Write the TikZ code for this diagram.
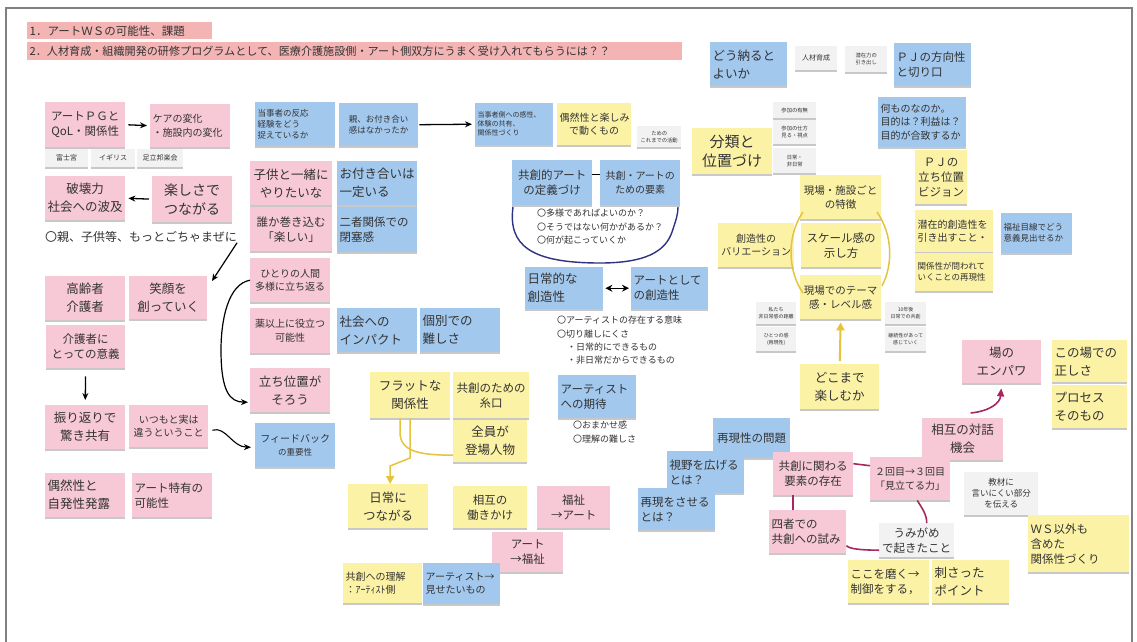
\documentclass[tikz,border=0pt]{standalone}
\usepackage{fontspec}
\setmainfont{Noto Sans CJK JP}
\usetikzlibrary{arrows.meta,shadows}
\definecolor{cpk}{HTML}{F7C8D6}
\definecolor{cbl}{HTML}{A3C8EE}
\definecolor{cyl}{HTML}{FBF2A6}
\definecolor{cgy}{HTML}{F2F2F2}
\definecolor{chd}{HTML}{F4B4B4}
\definecolor{ctx}{HTML}{333333}
\definecolor{cnv}{HTML}{2E3280}
\definecolor{cgd}{HTML}{E6C33C}
\definecolor{cmg}{HTML}{A8275F}
\newcommand{\szX}{\fontsize{15}{19}\selectfont}
\newcommand{\szA}{\fontsize{12.5}{18}\selectfont}
\newcommand{\szB}{\fontsize{11.5}{15}\selectfont}
\newcommand{\szBC}{\fontsize{10.5}{14}\selectfont}
\newcommand{\szC}{\fontsize{10}{13.5}\selectfont}
\newcommand{\szD}{\fontsize{8.5}{11}\selectfont}
\newcommand{\szE}{\fontsize{7}{9}\selectfont}
\newcommand{\szF}{\fontsize{5.3}{7}\selectfont}
\newcommand{\szT}{\fontsize{9}{13.3}\selectfont}
\newcommand{\stk}[8]{%
  \pgfmathsetmacro{\stkw}{#5-5}%
  \node[#1, anchor=north west, minimum width=#5pt, minimum height=#6pt, text width=\stkw pt, align=#7] (#2) at (#3,#4) {#8};}
\begin{document}
\begin{tikzpicture}[x=1pt,y=-1pt,
  sticky/.style={text=ctx, inner xsep=2.5pt, inner ysep=2pt,
    drop shadow={shadow xshift=0pt, shadow yshift=-2pt, opacity=0.3, fill=black!70}},
  pk/.style={sticky, fill=cpk},
  bl/.style={sticky, fill=cbl},
  yl/.style={sticky, fill=cyl},
  gy/.style={sticky, fill=cgy},
  hd/.style={text=ctx, fill=chd, inner xsep=2.5pt, inner ysep=1pt},
  txt/.style={text=ctx, inner sep=0pt},
  arr/.style={-{Stealth[length=7pt,width=6pt]}, line width=1.3pt, black},
  gdline/.style={cgd, line width=1.5pt},
  mgline/.style={cmg, line width=1.6pt},
  frame/.style={draw=black!50, line width=1.3pt}]
\useasboundingbox (0,0) rectangle (1137,641);
\fill[white] (0,0) rectangle (1137,641);
\draw[frame] (6,8) rectangle (1132,660);

% headers
\stk{hd,font=\fontsize{11.5}{14}\selectfont}{h1}{27}{22}{185}{17}{left}{1．アートＷＳの可能性、課題}
\stk{hd,font=\fontsize{11.1}{14}\selectfont}{h2}{27}{42}{655}{18}{left}{2．人材育成・組織開発の研修プログラムとして、医療介護施設側・アート側双方にうまく受け入れてもらうには？？}

% left column
\stk{pk,font=\szB}{n1}{45}{102}{80}{45}{center}{アートＰＧと\\QoL・関係性}
\stk{pk,font=\szC}{n2}{150}{104}{80}{43}{left}{ケアの変化\\・施設内の変化}
\stk{gy,font=\szE}{g1}{45}{149}{43}{18}{center}{富士宮}
\stk{gy,font=\szE}{g2}{91}{149}{44}{18}{center}{イギリス}
\stk{gy,font=\szE}{g3}{137}{149}{46}{18}{center}{足立邦楽会}
\stk{pk,font=\szA}{n3}{45}{176}{80}{44}{center}{破壊力\\社会への波及}
\stk{pk,font=\fontsize{14}{19}\selectfont}{n4}{152}{176}{80}{46}{center}{楽しさで\\つながる}
\node[txt, font=\fontsize{12}{14}\selectfont, anchor=west] (t1) at (45,237) {〇親、子供等、もっとごちゃまぜに};
\coordinate (c2) at (212,281);
\stk{pk,font=\szA}{n5}{45}{276}{80}{44}{center}{高齢者\\介護者}
\stk{pk,font=\szA}{n6}{129}{276}{78}{43}{center}{笑顔を\\創っていく}
\stk{pk,font=\szB}{n7}{46}{325}{79}{43}{center}{介護者に\\とっての意義}
\stk{pk,font=\szA}{n8}{45}{405}{80}{44}{center}{振り返りで\\驚き共有}
\stk{pk,font=\szC}{n9}{129}{405}{79}{42}{center}{いつもと実は\\違うということ}
\stk{bl,font=\szC}{n10}{255}{423}{80}{44}{center}{フィードバック\\{\szD の重要性}}
\stk{pk,font=\szA}{n11}{45}{473}{80}{44}{left}{偶然性と\\自発性発露}
\stk{pk,font=\szB}{n12}{132}{473}{80}{44}{left}{アート特有の\\可能性}

% column 2
\stk{bl,font=\szD}{n13}{255}{102}{80}{44}{left}{当事者の反応\\経験をどう\\捉えているか}
\stk{bl,font=\szD}{n14}{339}{103}{79}{43}{center}{親、お付き合い\\感はなかったか}
\stk{pk,font=\szA}{n15}{250}{161}{82}{44}{center}{子供と一緒に\\やりたいな}
\stk{bl,font=\szA}{n16}{337}{161}{80}{44}{left}{お付き合いは\\一定いる}
\stk{pk,font=\szB}{n17}{250}{207}{82}{44}{center}{誰か巻き込む\\「楽しい」}
\stk{bl,font=\szB}{n18}{337}{207}{80}{45}{left}{二者関係での\\閉塞感}
\stk{pk,font=\szC}{n19}{250}{258}{80}{44}{center}{ひとりの人間\\多様に立ち返る}
\stk{pk,font=\szC}{n20}{250}{308}{80}{45}{center}{薬以上に役立つ\\可能性}
\stk{bl,font=\szA}{n21}{337}{308}{80}{44}{left}{社会への\\インパクト}
\stk{bl,font=\szA}{n22}{420}{308}{80}{44}{left}{個別での\\難しさ}
\stk{pk,font=\szA}{n23}{250}{368}{80}{44}{center}{立ち位置が\\そろう}

% centre
\stk{bl,font=\szE}{n24}{475}{103}{78}{42}{left}{当事者側への感性、\\体験の共有、\\関係性づくり}
\stk{yl,font=\szC}{n25}{557}{103}{74}{42}{center}{偶然性と楽しみ\\で動くもの}
\stk{gy,font=\szF}{g4}{637}{126}{44}{21}{center}{ための\\これまでの活動}
\stk{bl,font=\szB}{n26}{512}{160}{80}{45}{center}{共創的アート\\の定義づけ}
\stk{bl,font=\szC}{n27}{600}{160}{80}{45}{center}{共創・アートの\\ための要素}
\node[txt, font=\szT, anchor=north west, align=left] (t2) at (537,209) {〇多様であればよいのか？\\〇そうではない何かがあるか？\\〇何が起こっていくか};
\stk{bl,font=\szA}{n28}{525}{267}{78}{42}{left}{日常的な\\創造性}
\stk{bl,font=\szB}{n29}{631}{267}{77}{42}{left}{アートとして\\の創造性}
\node[txt, font=\szT, anchor=north west, align=left] (t3) at (557,316) {〇アーティストの存在する意味\\〇切り離しにくさ\\\hspace{10pt}・日常的にできるもの\\\hspace{10pt}・非日常だからできるもの};
\stk{bl,font=\szB}{n30}{558}{375}{78}{43}{left}{アーティスト\\への期待}
\node[txt, font=\szT, anchor=north west, align=left] (t4) at (573,421) {〇おまかせ感\\〇理解の難しさ};

% yellow centre-left
\stk{yl,font=\szA}{n31}{370}{372}{80}{46}{center}{フラットな\\関係性}
\stk{yl,font=\szB}{n32}{453}{372}{76}{46}{center}{共創のための\\糸口}
\stk{yl,font=\szA}{n33}{453}{420}{74}{42}{center}{全員が\\登場人物}
\stk{yl,font=\szA}{n34}{348}{484}{80}{44}{center}{日常に\\つながる}
\stk{yl,font=\szB}{n35}{453}{486}{74}{42}{center}{相互の\\働きかけ}
\stk{pk,font=\szB}{n36}{537}{486}{73}{42}{center}{福祉\\→アート}
\stk{pk,font=\szB}{n37}{492}{532}{71}{40}{center}{アート\\→福祉}
\stk{yl,font=\szC}{n38}{343}{563}{79}{40}{left}{共創への理解\\：ｱｰﾃｨｽﾄ側}
\stk{bl,font=\szC}{n39}{423}{563}{77}{41}{left}{アーティスト→\\見せたいもの}

% right
\stk{bl,font=\szA}{n40}{710}{42}{77}{44}{left}{どう納ると\\よいか}
\stk{gy,font=\szE}{g5}{795}{46}{42}{24}{center}{人材育成}
\stk{gy,font=\szF}{g6}{845}{46}{42}{26}{center}{潜在力の\\引き出し}
\stk{bl,font=\szB}{n41}{894}{43}{77}{43}{left}{ＰＪの方向性\\と切り口}
\stk{bl,font=\szC}{n42}{878}{97}{88}{50}{left}{何ものなのか。\\目的は？利益は？\\目的が合致するか}
\stk{gy,font=\szF}{g7}{773}{102}{43}{16}{center}{参加の有無}
\stk{gy,font=\szF}{g8}{773}{120}{43}{24}{center}{参加の仕方\\見る・視点}
\stk{gy,font=\szF}{g9}{773}{148}{43}{25}{center}{日常・\\非日常}
\stk{yl,font=\szX}{n43}{692}{128}{80}{46}{center}{分類と\\位置づけ}
\stk{yl,font=\szB}{n44}{915}{150}{52}{54}{center}{ＰＪの\\立ち位置\\ビジョン}
\stk{yl,font=\szBC}{n45}{800}{175}{81}{44}{center}{現場・施設ごと\\の特徴}
\stk{yl,font=\szC}{n46}{718}{223}{76}{44}{center}{創造性の\\バリエーション}
\stk{yl,font=\szB}{n47}{801}{223}{80}{44}{center}{スケール感の\\示し方}
\stk{yl,font=\szBC}{n48}{800}{275}{81}{44}{center}{現場でのテーマ\\感・レベル感}
\stk{yl,font=\szC}{n49}{915}{210}{78}{42}{left}{潜在的創造性を\\引き出すこと・}
\stk{yl,font=\szD}{n50}{915}{253}{78}{38}{left}{関係性が問われて\\いくことの再現性}
\stk{bl,font=\szD}{n51}{1001}{213}{71}{40}{left}{福祉目線でどう\\意義見出せるか}
\stk{gy,font=\fontsize{5}{6.5}\selectfont}{g10}{756}{302}{40}{22}{center}{私たち\\非日常感の距離}
\stk{gy,font=\fontsize{5}{6.5}\selectfont}{g11}{756}{327}{40}{24}{center}{ひとつの感\\(再現性)}
\stk{gy,font=\fontsize{5}{6.5}\selectfont}{g12}{885}{302}{41}{22}{center}{10年後\\日常での共創}
\stk{gy,font=\fontsize{5}{6.5}\selectfont}{g13}{885}{327}{41}{24}{center}{継続性があって\\感じていく}
\stk{yl,font=\szA}{n52}{800}{364}{79}{45}{center}{どこまで\\楽しむか}
\stk{pk,font=\szA}{n53}{962}{340}{79}{43}{center}{場の\\エンパワ}
\stk{yl,font=\szA}{n54}{1052}{340}{75}{42}{left}{この場での\\正しさ}
\stk{yl,font=\szA}{n55}{1052}{385}{75}{43}{left}{プロセス\\そのもの}
\stk{pk,font=\szA}{n56}{922}{418}{81}{42}{center}{相互の対話\\機会}
\stk{bl,font=\szB}{n57}{713}{418}{77}{40}{center}{再現性の問題}
\stk{bl,font=\szB}{n58}{667}{451}{77}{42}{left}{視野を広げる\\とは？}
\stk{bl,font=\szB}{n59}{638}{488}{77}{42}{left}{再現をさせる\\とは？}
\stk{pk,font=\szB}{n60}{773}{452}{80}{43}{center}{共創に関わる\\要素の存在}
\stk{pk,font=\szC}{n61}{870}{457}{80}{43}{center}{２回目→３回目\\「見立てる力」}
\stk{pk,font=\szB}{n62}{769}{510}{77}{43}{left}{四者での\\共創への試み}
\stk{gy,font=\szD}{g14}{964}{472}{74}{43}{center}{教材に\\言いにくい部分\\を伝える}
\stk{gy,font=\szB}{n63}{879}{523}{75}{34}{center}{うみがめ\\で起きたこと}
\stk{yl,font=\szB}{n64}{848}{560}{81}{43}{left}{ここを磨く→\\制御をする，}
\stk{yl,font=\szA}{n65}{932}{560}{77}{43}{left}{刺さった\\ポイント}
\stk{yl,font=\szB}{n66}{1028}{515}{101}{57}{left}{ＷＳ以外も\\含めた\\関係性づくり}

% black connectors
\draw[arr, shorten <=3pt, shorten >=3pt] (n1.east) -- (n2.west);
\draw[arr, shorten <=3pt, shorten >=3pt] (n4.west) -- (n3.east);
\draw[arr, line width=1.2pt] (t1.south east) -- (c2);
\draw[arr, shorten <=8pt, shorten >=5pt] (n7.south) -- (n8.north);
\draw[arr, line width=1.1pt] ([xshift=4pt,yshift=-4pt]n9.east) .. controls (226,426) and (232,447) .. ([xshift=-4pt,yshift=-2pt]n10.west);
\draw[arr, line width=1.2pt] (n19.west) .. controls (228,284) and (221,320) .. (221,350) .. controls (221,392) and (230,402) .. ([xshift=-2pt,yshift=-12pt]n23.west);
\draw[arr, shorten <=1pt, shorten >=3pt] (n14.east) -- (n24.west);
\draw[line width=1.3pt] ([yshift=8pt]n26.east) -- ([yshift=8pt]n27.west);
\draw[{Stealth[length=7pt,width=7pt]}-{Stealth[length=7pt,width=7pt]}, line width=1.3pt, shorten <=2pt, shorten >=2pt] (n28.east) -- (n29.west);

% navy lasso
\draw[cnv, line width=1.4pt] (513,207) .. controls (508,245) and (530,263) .. (600,263) .. controls (655,263) and (668,246) .. (673,229) .. controls (676,220) and (678,214) .. (678,207);

% golden lines
\draw[gdline] ([xshift=-10pt]n31.south) -- (400,432) .. controls (400,452) and (420,455) .. ([yshift=-14pt]n33.west);
\draw[gdline, -{Triangle[length=8pt,width=8pt]}] (n31.south) -- (410,458) -- (390,466) -- ([xshift=2pt]n34.north);
\draw[gdline, -{Triangle[length=8pt,width=8pt]}, line width=2pt, shorten <=3pt, shorten >=3pt] (n52.north) -- (n48.south);
\draw[gdline] (803,212) .. controls (787,235) and (787,270) .. (803,293);
\draw[gdline] (877,212) .. controls (893,235) and (893,265) .. (882,286);

% magenta lines
\draw[mgline] ([yshift=10pt]n60.east) -- ([yshift=13pt]n61.west);
\draw[mgline] ([xshift=-20pt]n60.south) -- ([xshift=-14.5pt]n62.north);
\draw[mgline] ([xshift=7pt]n61.south) .. controls (922,508) and (927,515) .. ([xshift=10pt]n63.north);
\draw[mgline] ([yshift=-14pt]n62.east) .. controls (850,549) and (860,550) .. ([yshift=-10pt]n63.west);
\draw[mgline, -{Triangle[length=8pt,width=7pt]}, shorten >=5pt] ([xshift=8pt,yshift=5pt]n56.north) .. controls (990,411) and (1000,403) .. (n53.south);
\end{tikzpicture}
\end{document}
